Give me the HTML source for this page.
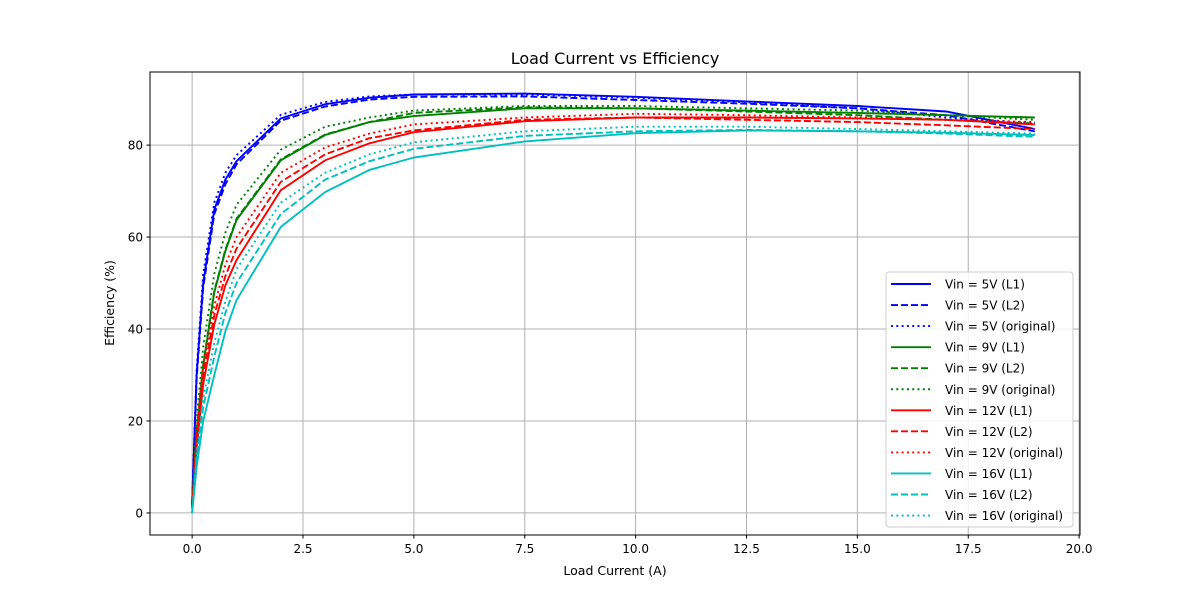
<!DOCTYPE html>
<html><head><meta charset="utf-8"><style>
body{margin:0;background:#fff;font-family:"Liberation Sans","DejaVu Sans",sans-serif}
svg text{font-family:"DejaVu Sans","Liberation Sans",sans-serif}
</style></head><body>
<svg id="chart" width="1200" height="600" xmlns="http://www.w3.org/2000/svg"></svg>
<script>
const xVals=[0,0.1,0.25,0.5,0.75,1,2,3,4,5,7.5,10,12.5,15,17,19];
const v5L1=[2,30,50,66,72.5,76.5,85.8,88.9,90.3,91,91.2,90.5,89.5,88.5,87.3,83.5];
const v5L2=[2,29,49,65,71.5,75.8,85.3,88.4,89.9,90.5,90.6,89.8,89,88,86.5,83];
const v5Orig=[2,31,52,67.5,74,77.8,86.6,89.4,90.6,91,91,90.3,89.3,88,86,84.8];
const v9L1=[1.5,17,32,48,57,63.7,76.7,82.2,85,86.3,88,88,87.5,87,86.5,86];
const v9L2=[1.5,17.3,32.3,48.3,57.3,64,76.9,82.3,85,87,88.2,88,87.3,86.5,85.5,84.7];
const v9Orig=[1.5,20,36,52,61,67,79,84,86,87.5,88.5,88.5,88,87.5,86.5,85.5];
const v12L1=[1,14,28,41,49.5,55,70.2,76.7,80.4,82.8,85.2,86,86,85.8,85.5,84.5];
const v12L2=[1,16,30,43,51.5,57.5,72,78,81.5,83.2,85.5,86,85.5,85,84.3,83.5];
const v12Orig=[1,18,32,45,54,60,74,79.5,82.5,84.5,86,86.8,86.5,86,85.5,85];
const v16L1=[0,10,20,30,39.5,46.3,62.2,69.8,74.6,77.3,80.8,82.6,83.2,83,82.7,82.2];
const v16L2=[0,12,23,34,43.5,50,65,72.5,76.5,79.2,82,83,83.3,83,82.5,81.8];
const v16Orig=[0,13,25,37,46,53,67.5,74,78,80.6,83,84,84,83.5,83,82.5];
const xTicks=[0,2.5,5,7.5,10,12.5,15,17.5,20];
const xTickLabels=["0.0","2.5","5.0","7.5","10.0","12.5","15.0","17.5","20.0"];
const yTicks=[0,20,40,60,80];
const seriesNames=["Vin = 5V (L1)","Vin = 5V (L2)","Vin = 5V (original)","Vin = 9V (L1)","Vin = 9V (L2)","Vin = 9V (original)","Vin = 12V (L1)","Vin = 12V (L2)","Vin = 12V (original)","Vin = 16V (L1)","Vin = 16V (L2)","Vin = 16V (original)"];
const seriesData=[v5L1,v5L2,v5Orig,v9L1,v9L2,v9Orig,v12L1,v12L2,v12Orig,v16L1,v16L2,v16Orig];

const L=150,R=1080,T=72,B=535,xmin=-0.95,xmax=20.02,ymin=-4.8,ymax=95.9;
const sx=v=>L+(v-xmin)/(xmax-xmin)*(R-L);
const sy=v=>B-(v-ymin)/(ymax-ymin)*(B-T);
const colors=["#0000ff","#008000","#ff0000","#00bfbf"];
const dashes=["","7,3","2,3.3"];
const svg=document.getElementById('chart');
const NS="http://www.w3.org/2000/svg";
function mk(tag,attrs,parent){const e=document.createElementNS(NS,tag);for(const k in attrs)e.setAttribute(k,attrs[k]);(parent||svg).appendChild(e);return e;}

xTicks.forEach((t,i)=>{
 const g=mk('line',{x1:sx(t),x2:sx(t),y1:T,y2:B,stroke:'#b0b0b0','stroke-width':1});
 
 
 mk('line',{x1:sx(t),x2:sx(t),y1:B,y2:B+3.5,stroke:'#000'});
 const tx=mk('text',{x:sx(t),y:B+18,'font-size':12,'text-anchor':'middle'});
 tx.textContent=xTickLabels[i];
 
 
});
yTicks.forEach(t=>{
 const g=mk('line',{x1:L,x2:R,y1:sy(t),y2:sy(t),stroke:'#b0b0b0','stroke-width':1});
 
 
 mk('line',{x1:L-3.5,x2:L,y1:sy(t),y2:sy(t),stroke:'#000'});
 const tx=mk('text',{x:L-7,y:sy(t)+4.5,'font-size':12,'text-anchor':'end'});
 tx.textContent=t;
 
 
});
seriesData.forEach((d,i)=>{
 const pts=d.map((v,j)=>sx(xVals[j]).toFixed(1)+','+sy(v).toFixed(1)).join(' ');
 const p=mk('polyline',{points:pts,fill:'none',stroke:colors[Math.floor(i/3)],'stroke-width':1.9,'stroke-dasharray':dashes[i%3]});
 
 
});
const fr=mk('rect',{x:L,y:T,width:R-L,height:B-T,fill:'none',stroke:'#000','stroke-width':1});


const tt=mk('text',{x:615,y:64,'font-size':16,'text-anchor':'middle'});tt.textContent='Load Current vs Efficiency';


const xt=mk('text',{x:615,y:575,'font-size':12.5,'text-anchor':'middle'});xt.textContent='Load Current (A)';


const yt=mk('text',{x:0,y:0,'font-size':12.5,'text-anchor':'middle',transform:'translate(114,303) rotate(-90)'});yt.textContent='Efficiency (%)';


const lg=mk('g',{});


mk('rect',{x:886,y:272,width:187,height:255,rx:3,fill:'#fff','fill-opacity':0.85,stroke:'#ccc'},lg);
seriesNames.forEach((n,i)=>{
 const y=284+i*21.05;
 const ln=mk('line',{x1:891,x2:931,y1:y,y2:y,stroke:colors[Math.floor(i/3)],'stroke-width':1.9,'stroke-dasharray':dashes[i%3]},lg);
 
 
 const tx=mk('text',{x:945,y:y+4.5,'font-size':12},lg);tx.textContent=n;
 
 
});
</script>
</body></html>
